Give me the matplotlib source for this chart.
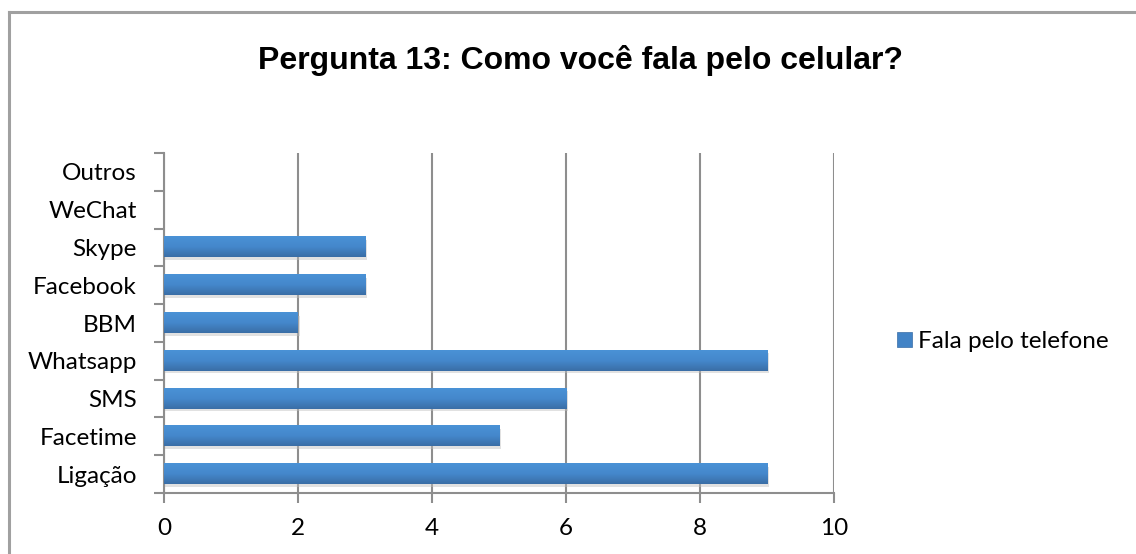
import matplotlib
matplotlib.use("Agg")
import matplotlib.pyplot as plt
import numpy as np
from matplotlib.colors import LinearSegmentedColormap
from matplotlib.patches import Rectangle
from matplotlib.lines import Line2D

categories = ["Ligação", "Facetime", "SMS", "Whatsapp", "BBM", "Facebook", "Skype", "WeChat", "Outros"]
values = [9, 5, 6, 9, 2, 3, 3, 0, 0]
series_name = "Fala pelo telefone"
title = "Pergunta 13: Como você fala pelo celular?"
xticks = [0, 2, 4, 6, 8, 10]

W, H = 1136, 554
fig = plt.figure(figsize=(W / 100, H / 100), dpi=100)
fig.patch.set_facecolor("white")

# outer chart border (top and left visible)
fig.add_artist(Line2D([9 / W, 9 / W], [0, 1 - 12 / H], transform=fig.transFigure, color="#a0a0a0", lw=2.2))
fig.add_artist(Line2D([9 / W, 1], [1 - 12 / H, 1 - 12 / H], transform=fig.transFigure, color="#a0a0a0", lw=2.2))

left, right, top, bottom = 164, 834, 153, 493
ax = fig.add_axes([left / W, 1 - bottom / H, (right - left) / W, (bottom - top) / H])

tick_font = "Lato"
fs = 17.5
grid_c = "#8e8e8e"

ax.set_xlim(0, 10)
ax.set_ylim(-0.5, len(categories) - 0.5)
ax.set_xticks(xticks)
ax.set_xticklabels([str(t) for t in xticks], fontsize=fs, fontfamily=tick_font)
ax.set_yticks(np.arange(len(categories)))
ax.set_yticklabels(categories, fontsize=fs, fontfamily=tick_font)
ax.set_yticks(np.arange(len(categories) + 1) - 0.5, minor=True)
ax.tick_params(axis="y", which="major", length=0, pad=19.5)
ax.tick_params(axis="y", which="minor", length=7, width=1.5, color=grid_c, direction="out")
ax.tick_params(axis="x", which="major", length=7, width=1.5, color=grid_c, direction="out", pad=11)

for s in ["top", "right"]:
    ax.spines[s].set_visible(False)
for s in ["left", "bottom"]:
    ax.spines[s].set_color(grid_c)
    ax.spines[s].set_linewidth(1.5)

ax.grid(axis="x", color=grid_c, lw=1.5, zorder=0)
ax.set_axisbelow(True)

cmap = LinearSegmentedColormap.from_list("bar", ["#3a6ea6", "#4588cc", "#4a92d6"])
grad = np.linspace(0, 1, 64).reshape(-1, 1)
bh = 0.53
for i, v in enumerate(values):
    if v <= 0:
        continue
    # shadow
    ax.add_patch(Rectangle((0.0, i - bh / 2 - 0.07), v + 0.03, bh, facecolor="#bdbdbd", alpha=0.45,
                           edgecolor="none", zorder=2))
    ax.imshow(grad, cmap=cmap, aspect="auto", extent=(0, v, i - bh / 2, i + bh / 2),
              origin="lower", zorder=3, interpolation="bilinear")
ax.set_xlim(0, 10)
ax.set_ylim(-0.5, len(categories) - 0.5)

# title
fig.text(580 / W, 1 - 60 / H, title, ha="center", va="center", fontsize=23,
         fontweight="bold", fontfamily="Liberation Sans")

# legend
lx0, ly0 = 897, 332
fig.add_artist(Rectangle((lx0 / W, 1 - (ly0 + 15) / H), 15 / W, 15 / H, transform=fig.transFigure,
                         facecolor="#4283c6", edgecolor="#3a6ea6", lw=0.5))
fig.text(918 / W, 1 - 341 / H, series_name, ha="left", va="center", fontsize=fs, fontfamily=tick_font)

fig.savefig("out.png", dpi=100)
